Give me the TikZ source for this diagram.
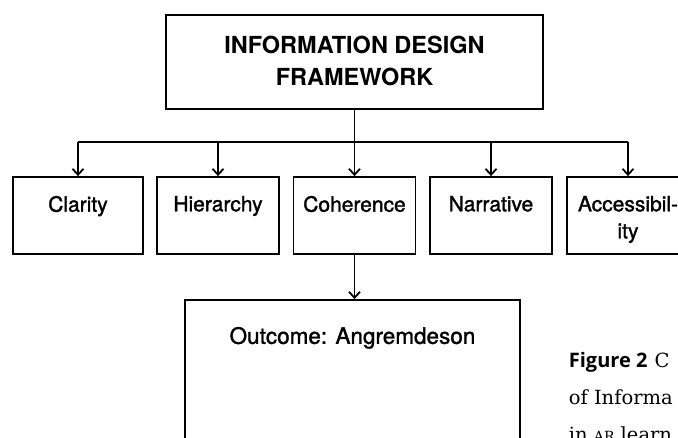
\documentclass[tikz,border=0pt]{standalone}
\usepackage{fontspec}
\newfontfamily\headfont{TeX Gyre Heros}
\newfontfamily\boxfont[FakeBold=1.5]{TeX Gyre Heros}
\newfontfamily\figfont{Open Sans}
\newfontfamily\capserif{DejaVu Serif}
\usetikzlibrary{arrows.meta,positioning}
\tikzset{>={Straight Barb[length=6pt,width=11pt,line width=1.8pt]}}
\tikzset{ frame/.style={draw,line width=1.8pt,inner sep=0pt},
  item/.style={frame,minimum width=122pt,minimum height=77pt},
  itemtext/.style={inner sep=0pt,align=center,anchor=north,font=\boxfont\fontsize{21}{27}\selectfont},
  capline/.style={anchor=base west,inner sep=0pt,font=\capserif\fontsize{19.5}{24}\selectfont} }

\begin{document}
\begin{tikzpicture}[x=1pt,y=-1pt,line width=1.8pt]
  \useasboundingbox (0,0) rectangle (678,438);
  \clip (0,0) rectangle (678,438);
  % framework box
  \node[frame,minimum width=377pt,minimum height=94pt] (top) at (354.5,62) {};
  \node[inner sep=0pt,align=center,font=\headfont\bfseries\fontsize{23.5}{32}\selectfont] (toptext) at (354.5,61)
    {INFORMATION DESIGN\\FRAMEWORK};
  % principles
  \node[item,minimum width=130pt] (clarity) at (78,215.5) {};
  \node[item] (hierarchy) at (218,215.5) {};
  \node[item] (coherence) at (354.5,215.5) {};
  \node[item] (narrative) at (491,215.5) {};
  \node[item] (access) at (628,215.5) {};
  \node[itemtext] (claritytext) at ([yshift=-19pt]clarity.north) {Clarity};
  \node[itemtext] (hierarchytext) at ([yshift=-19pt]hierarchy.north) {Hierarchy};
  \node[itemtext] (coherencetext) at ([yshift=-19pt]coherence.north) {Coherence};
  \node[itemtext] (narrativetext) at ([yshift=-19pt]narrative.north) {Narrative};
  \node[itemtext] (accesstext) at ([yshift=-19pt]access.north) {Accessibil-\\ity};
  % outcome
  \node[frame,minimum width=335pt,minimum height=170pt] (outcome) at (352.5,385) {};
  \node[itemtext,font=\boxfont\fontsize{22.5}{27}\selectfont] (outcometext) at ([yshift=-27pt]outcome.north) {Outcome: Angremdeson};
  % connectors
  \coordinate (bus) at (0,142);
  \draw (top.south) -- (top.south |- bus);
  \draw (clarity.north |- bus) -- (access.north |- bus);
  \foreach \n in {clarity,hierarchy,coherence,narrative,access}
    \draw[->] (\n.north |- bus) -- (\n.north);
  \draw[->] (coherence.south) -- (outcome.north -| coherence.south);
  % caption
  \node[capline] (cap1) at (568,368) {{\figfont\bfseries\fontsize{20}{24}\selectfont Figure 2}\hspace{7pt}C};
  \node[capline] (cap2) at (568,405) {of Informa};
  \node[capline] (cap3) at (568,442) {in {\fontsize{14}{24}\selectfont AR} learn};
\end{tikzpicture}
\end{document}
